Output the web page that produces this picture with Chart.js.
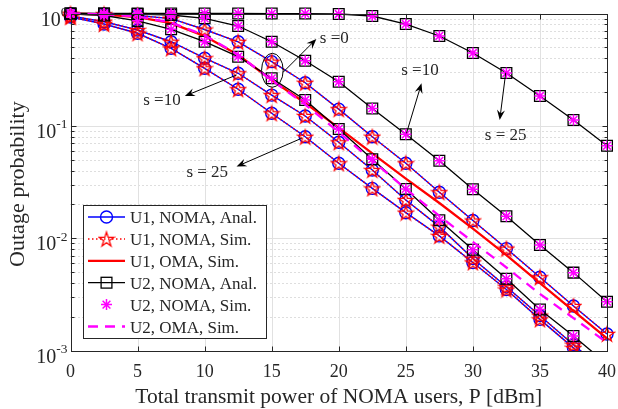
<!DOCTYPE html>
<html>
<head>
<meta charset="utf-8">
<script src="https://cdn.jsdelivr.net/npm/chart.js@4.4.1/dist/chart.umd.min.js"></script>
<style>
  html, body { margin: 0; padding: 0; background: #fff; }
  #wrap { width: 618px; height: 409px; }
</style>
</head>
<body>
<div id="wrap"><canvas id="chart" width="618" height="409"></canvas></div>
<script>
// Outage probability vs. total transmit power.
const powerDb = [0, 2.5, 5, 7.5, 10, 12.5, 15, 17.5, 20, 22.5, 25, 27.5, 30, 32.5, 35, 37.5, 40];

// U1 (near user), NOMA — analysis and simulation sit on the same points
const u1NomaS0 = [0.995, 0.985, 0.96, 0.9, 0.72, 0.56, 0.373, 0.242, 0.141, 0.0801, 0.0465, 0.0257, 0.0144, 0.0081, 0.0045, 0.0025, 0.00141];
const u1NomaS10 = [0.95, 0.845, 0.713, 0.561, 0.4, 0.294, 0.188, 0.1225, 0.0715, 0.0405, 0.0219, 0.0127, 0.0066, 0.0037, 0.00205, 0.00113, 0.00063];
const u1NomaS25 = [0.93, 0.806, 0.667, 0.49, 0.3255, 0.212, 0.1295, 0.08, 0.0465, 0.0278, 0.0169, 0.0105, 0.0061, 0.0035, 0.0019, 0.00106, 0.0006];

// U2 (far user), NOMA
const u2NomaS0 = [0.995, 0.96, 0.86, 0.723, 0.561, 0.413, 0.265, 0.17, 0.094, 0.0505, 0.0275, 0.0145, 0.0079, 0.00436, 0.00233, 0.00135, 0.00076];
const u2NomaS10 = [1, 0.999, 0.99, 0.97, 0.906, 0.774, 0.561, 0.38, 0.247, 0.143, 0.0842, 0.0489, 0.0273, 0.0157, 0.0087, 0.00495, 0.00273];
const u2NomaS25 = [1, 1, 1, 1, 1, 1, 0.999, 0.998, 0.99, 0.95, 0.806, 0.631, 0.445, 0.2955, 0.1845, 0.113, 0.0666];

// OMA baselines (simulation)
const u1Oma = [1, 0.98, 0.93, 0.82, 0.63, 0.427, 0.256, 0.16, 0.096, 0.057, 0.034, 0.0206, 0.0122, 0.0071, 0.004, 0.00226, 0.00129];
const u2Oma = [1, 0.985, 0.94, 0.83, 0.64, 0.43, 0.255, 0.155, 0.088, 0.049, 0.0275, 0.0158, 0.0093, 0.0055, 0.0032, 0.00195, 0.00118];

const xTickValues = [0, 5, 10, 15, 20, 25, 30, 35, 40];
const yTickExponents = [0, -1, -2, -3];
const legendLabels = [
  "U1, NOMA, Anal.", "U1, NOMA, Sim.", "U1, OMA, Sim.",
  "U2, NOMA, Anal.", "U2, NOMA, Sim.", "U2, OMA, Sim."
];
const xTitle = "Total transmit power of NOMA users, P [dBm]";
const yTitle = "Outage probability";

(function () {
  const SERIF = '"Liberation Serif", "Times New Roman", serif';
  const AXIS = "#262626";
  const BLUE = "#0000ff";
  const RED = "#ff0000";
  const MAGENTA = "#ff00ff";
  const BLACK = "#000000";
  const CLEAR = "rgba(0,0,0,0)";

  // Callouts, anchored in data units (x in dBm, y as probability).
  const NOTES = [
    { text: "s =0", x: 18.59, y: 0.541 },
    { text: "s =10", x: 5.42, y: 0.1535 },
    { text: "s = 25", x: 8.64, y: 0.0351 },
    { text: "s =10", x: 24.66, y: 0.2836 },
    { text: "s = 25", x: 30.89, y: 0.0749 }
  ];
  const ARROWS = [
    { from: [15.87, 0.3016], to: [18.33, 0.593] },
    { from: [12.38, 0.2836], to: [8.53, 0.1845] },
    { from: [17.23, 0.0776], to: [12.38, 0.0435] },
    { from: [25.05, 0.0859], to: [26.17, 0.2393] },
    { from: [32.45, 0.2974], to: [32.0, 0.1128] }
  ];
  const ELLIPSE = { x: 15.05, y: 0.3124, rx: 10.8, ry: 17 };

  // MATLAB-style open pentagram, drawn once and reused as a point style.
  function pentagram(size, r, color, lw) {
    const c = document.createElement("canvas");
    c.width = size;
    c.height = size;
    const g = c.getContext("2d");
    g.strokeStyle = color;
    g.lineWidth = lw;
    g.beginPath();
    const ri = r * 0.382;
    for (let i = 0; i < 10; i++) {
      const rr = i % 2 ? ri : r;
      const a = -Math.PI / 2 + (i * Math.PI) / 5;
      const px = size / 2 + rr * Math.cos(a);
      const py = size / 2 + 0.8 + rr * Math.sin(a);
      if (i) g.lineTo(px, py); else g.moveTo(px, py);
    }
    g.closePath();
    g.stroke();
    return c;
  }
  const STAR = pentagram(18, 7.6, RED, 1.3);
  const CLIP = { left: 12, top: 12, right: 12, bottom: 1 };

  const pts = (ys) => powerDb.map((x, i) => ({ x, y: ys[i] }));

  function u1Anal(ys) {
    return {
      data: pts(ys), borderColor: BLUE, borderWidth: 1.4,
      pointStyle: "circle", pointRadius: 6, pointBorderWidth: 1.4,
      pointBorderColor: BLUE, pointBackgroundColor: CLEAR, order: 6, clip: CLIP
    };
  }
  function u1Sim(ys) {
    return {
      data: pts(ys), borderColor: RED, borderWidth: 1.5, borderDash: [1.5, 2.5],
      pointStyle: STAR, pointRadius: 7, order: 5, clip: CLIP
    };
  }
  function u2Anal(ys) {
    return {
      data: pts(ys), borderColor: BLACK, borderWidth: 1.3,
      pointStyle: "rect", pointRadius: 7.6, pointBorderWidth: 1.3,
      pointBorderColor: BLACK, pointBackgroundColor: CLEAR, order: 3, clip: CLIP
    };
  }
  function u2Sim(ys) {
    return {
      data: pts(ys), showLine: false, borderColor: MAGENTA,
      pointStyle: "star", pointRadius: 5.5, pointBorderWidth: 1.5,
      pointBorderColor: MAGENTA, order: 2, clip: CLIP
    };
  }

  const datasets = [
    u1Anal(u1NomaS0), u1Anal(u1NomaS10), u1Anal(u1NomaS25),
    u1Sim(u1NomaS0), u1Sim(u1NomaS10), u1Sim(u1NomaS25),
    { data: pts(u1Oma), borderColor: RED, borderWidth: 2.3, pointRadius: 0, order: 4, clip: CLIP },
    u2Anal(u2NomaS0), u2Anal(u2NomaS10), u2Anal(u2NomaS25),
    u2Sim(u2NomaS0), u2Sim(u2NomaS10), u2Sim(u2NomaS25),
    { data: pts(u2Oma), borderColor: MAGENTA, borderWidth: 2.3, borderDash: [10, 7], pointRadius: 0, order: 1, clip: CLIP }
  ];

  const LEGEND = [
    { line: { color: BLUE, width: 1.4, dash: [] }, marker: "circle" },
    { line: { color: RED, width: 1.5, dash: [1.5, 2.5] }, marker: "pentagram" },
    { line: { color: RED, width: 2.3, dash: [] }, marker: null },
    { line: { color: BLACK, width: 1.3, dash: [] }, marker: "square" },
    { line: null, marker: "asterisk" },
    { line: { color: MAGENTA, width: 2.3, dash: [10, 7] }, marker: null }
  ];

  function drawMarker(ctx, kind, x, y) {
    ctx.save();
    ctx.setLineDash([]);
    if (kind === "circle") {
      ctx.strokeStyle = BLUE; ctx.lineWidth = 1.4;
      ctx.beginPath(); ctx.arc(x, y, 6, 0, Math.PI * 2); ctx.stroke();
    } else if (kind === "square") {
      ctx.strokeStyle = BLACK; ctx.lineWidth = 1.3;
      ctx.strokeRect(x - 5.4, y - 5.4, 10.8, 10.8);
    } else if (kind === "pentagram") {
      ctx.drawImage(STAR, x - STAR.width / 2, y - STAR.height / 2);
    } else if (kind === "asterisk") {
      ctx.strokeStyle = MAGENTA; ctx.lineWidth = 1.5;
      const r = 5.5, d = r * Math.SQRT1_2;
      ctx.beginPath();
      ctx.moveTo(x - r, y); ctx.lineTo(x + r, y);
      ctx.moveTo(x, y - r); ctx.lineTo(x, y + r);
      ctx.moveTo(x - d, y - d); ctx.lineTo(x + d, y + d);
      ctx.moveTo(x - d, y + d); ctx.lineTo(x + d, y - d);
      ctx.stroke();
    }
    ctx.restore();
  }

  // Light solid major grid, dotted minor grid on the log axis.
  const gridPlugin = {
    id: "matlabGrid",
    beforeDatasetsDraw(chart) {
      const { ctx, chartArea: a, scales: { x, y } } = chart;
      ctx.save();
      ctx.lineWidth = 1;
      ctx.strokeStyle = "#bdbdbd";
      ctx.setLineDash([1, 3]);
      for (let k = -3; k <= -1; k++) {
        for (let m = 2; m <= 9; m++) {
          const py = Math.round(y.getPixelForValue(m * Math.pow(10, k))) + 0.5;
          ctx.beginPath(); ctx.moveTo(a.left, py); ctx.lineTo(a.right, py); ctx.stroke();
        }
      }
      ctx.setLineDash([]);
      ctx.strokeStyle = "#e1e1e1";
      for (const v of xTickValues.slice(1, -1)) {
        const px = Math.round(x.getPixelForValue(v)) + 0.5;
        ctx.beginPath(); ctx.moveTo(px, a.top); ctx.lineTo(px, a.bottom); ctx.stroke();
      }
      for (const e of yTickExponents.slice(1, -1)) {
        const py = Math.round(y.getPixelForValue(Math.pow(10, e))) + 0.5;
        ctx.beginPath(); ctx.moveTo(a.left, py); ctx.lineTo(a.right, py); ctx.stroke();
      }
      ctx.restore();
    }
  };

  // Box, ticks, tick labels, axis titles, legend and callouts.
  const decorPlugin = {
    id: "matlabDecor",
    afterDatasetsDraw(chart) {
      const { ctx, chartArea: a, scales: { x, y } } = chart;
      const L = Math.round(a.left) + 0.5, R = Math.round(a.right) + 0.5;
      const T = Math.round(a.top) + 0.5, B = Math.round(a.bottom) + 0.5;
      ctx.save();
      ctx.strokeStyle = AXIS;
      ctx.fillStyle = AXIS;
      ctx.lineWidth = 1;
      ctx.strokeRect(L, T, R - L, B - T);

      ctx.beginPath();
      for (const v of xTickValues) {
        const px = Math.round(x.getPixelForValue(v)) + 0.5;
        ctx.moveTo(px, B); ctx.lineTo(px, B - 5);
        ctx.moveTo(px, T); ctx.lineTo(px, T + 5);
      }
      for (let k = -3; k <= 0; k++) {
        for (let m = 1; m <= 9; m++) {
          const v = m * Math.pow(10, k);
          if (v > 1) break;
          const py = Math.round(y.getPixelForValue(v)) + 0.5;
          const len = m === 1 ? 5 : 3;
          ctx.moveTo(L, py); ctx.lineTo(L + len, py);
          ctx.moveTo(R, py); ctx.lineTo(R - len, py);
        }
      }
      ctx.stroke();

      ctx.font = "18px " + SERIF;
      ctx.textAlign = "center";
      ctx.textBaseline = "alphabetic";
      for (const v of xTickValues) {
        ctx.fillText(String(v), x.getPixelForValue(v), 376.5);
      }

      for (const e of yTickExponents) {
        const py = y.getPixelForValue(Math.pow(10, e));
        const sup = String(e);
        ctx.font = "13.5px " + SERIF;
        const supW = ctx.measureText(sup).width;
        ctx.textAlign = "left";
        const right = a.left - 3;
        ctx.fillText(sup, right - supW, py + 2.5);
        ctx.font = "20px " + SERIF;
        ctx.textAlign = "right";
        ctx.fillText("10", right - supW, py + 12);
      }

      ctx.font = "21.5px " + SERIF;
      ctx.textAlign = "center";
      ctx.fillText(xTitle, (a.left + a.right) / 2, 402.5);
      ctx.save();
      ctx.font = "22px " + SERIF;
      ctx.translate(24, (a.top + a.bottom) / 2 + 2);
      ctx.rotate(-Math.PI / 2);
      ctx.fillText(yTitle, 0, 0);
      ctx.restore();

      // Legend box, lower left inside the axes
      const bx = 83.5, by = 205.5, bw = 183, bh = 133;
      ctx.fillStyle = "#ffffff";
      ctx.fillRect(bx, by, bw, bh);
      ctx.strokeStyle = AXIS;
      ctx.strokeRect(bx, by, bw, bh);
      ctx.font = "17px " + SERIF;
      ctx.textAlign = "left";
      LEGEND.forEach((item, i) => {
        const ry = 217 + i * 21.9;
        if (item.line) {
          ctx.save();
          ctx.strokeStyle = item.line.color;
          ctx.lineWidth = item.line.width;
          ctx.setLineDash(item.line.dash);
          ctx.beginPath(); ctx.moveTo(88, ry); ctx.lineTo(125, ry); ctx.stroke();
          ctx.restore();
        }
        if (item.marker) drawMarker(ctx, item.marker, 106.5, ry);
        ctx.fillStyle = AXIS;
        ctx.fillText(legendLabels[i], 130, ry + 6);
      });

      // Callouts
      ctx.fillStyle = AXIS;
      ctx.font = "17px " + SERIF;
      for (const n of NOTES) {
        ctx.fillText(n.text, x.getPixelForValue(n.x), y.getPixelForValue(n.y));
      }
      ctx.strokeStyle = BLACK;
      ctx.fillStyle = BLACK;
      ctx.lineWidth = 1;
      for (const ar of ARROWS) {
        const x0 = x.getPixelForValue(ar.from[0]), y0 = y.getPixelForValue(ar.from[1]);
        const x1 = x.getPixelForValue(ar.to[0]), y1 = y.getPixelForValue(ar.to[1]);
        const ang = Math.atan2(y1 - y0, x1 - x0);
        const len = 10, half = 4;
        const ux = Math.cos(ang), uy = Math.sin(ang);
        ctx.beginPath(); ctx.moveTo(x0, y0); ctx.lineTo(x1 - ux * 6, y1 - uy * 6); ctx.stroke();
        ctx.beginPath();
        ctx.moveTo(x1, y1);
        ctx.lineTo(x1 - ux * len - uy * half, y1 - uy * len + ux * half);
        ctx.lineTo(x1 - ux * len * 0.65, y1 - uy * len * 0.65);
        ctx.lineTo(x1 - ux * len + uy * half, y1 - uy * len - ux * half);
        ctx.closePath();
        ctx.fill();
      }
      ctx.beginPath();
      ctx.ellipse(x.getPixelForValue(ELLIPSE.x), y.getPixelForValue(ELLIPSE.y), ELLIPSE.rx, ELLIPSE.ry, 0, 0, Math.PI * 2);
      ctx.stroke();
      ctx.restore();
    }
  };

  new Chart(document.getElementById("chart").getContext("2d"), {
    type: "line",
    data: { datasets },
    options: {
      responsive: false,
      animation: false,
      events: [],
      layout: { padding: { left: 70.5, right: 11, top: 13.5, bottom: 58.3 } },
      scales: {
        x: { type: "linear", min: 0, max: 40, display: false },
        y: { type: "logarithmic", min: 1e-3, max: 1, display: false }
      },
      plugins: { legend: { display: false }, tooltip: { enabled: false } }
    },
    plugins: [gridPlugin, decorPlugin]
  });
})();
</script>
</body>
</html>
